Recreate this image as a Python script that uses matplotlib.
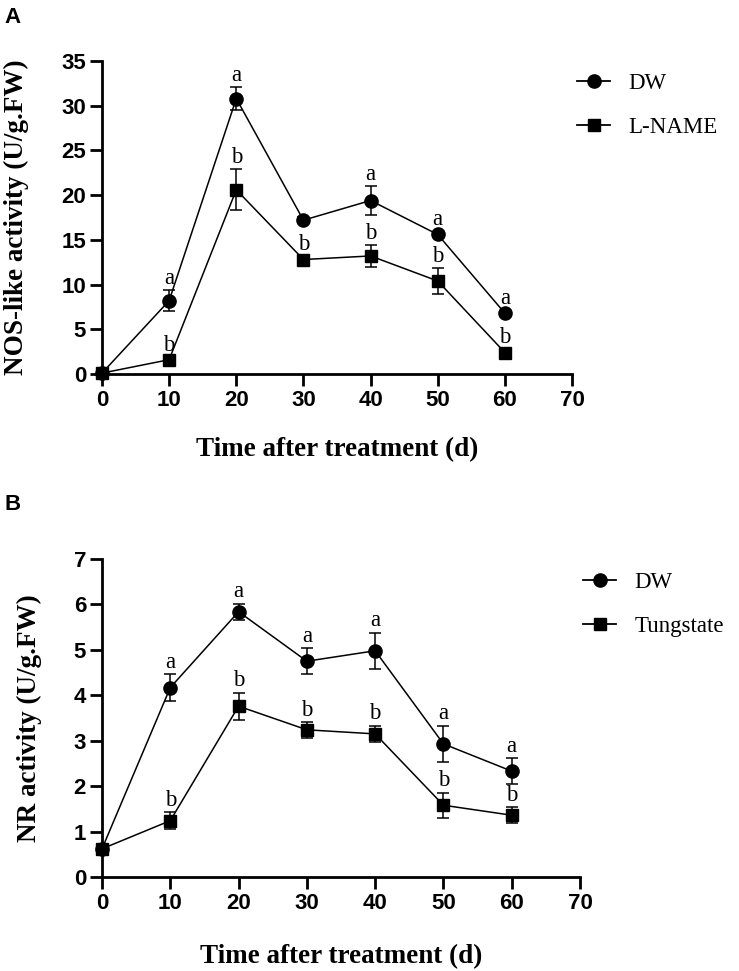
import matplotlib.pyplot as plt
from matplotlib.lines import Line2D

days = [0, 10, 20, 30, 40, 50, 60]

# panel A: NOS-like activity
nos_dw = [0.1, 8.2, 30.8, 17.2, 19.4, 15.6, 6.8]
nos_dw_err = [0.2, 1.2, 1.3, 0.3, 1.6, 0.3, 0.3]
nos_dw_lab = ["", "a", "a", "", "a", "a", "a"]
nos_ln = [0.1, 1.6, 20.6, 12.8, 13.2, 10.4, 2.4]
nos_ln_err = [0.2, 0.3, 2.3, 0.3, 1.2, 1.4, 0.3]
nos_ln_lab = ["", "b", "b", "b", "b", "b", "b"]

# panel B: NR activity
nr_dw = [0.62, 4.17, 5.84, 4.75, 4.98, 2.93, 2.33]
nr_dw_err = [0.05, 0.3, 0.18, 0.28, 0.4, 0.4, 0.28]
nr_dw_lab = ["", "a", "a", "a", "a", "a", "a"]
nr_tu = [0.62, 1.24, 3.76, 3.24, 3.15, 1.58, 1.36]
nr_tu_err = [0.05, 0.18, 0.3, 0.17, 0.18, 0.28, 0.18]
nr_tu_lab = ["", "b", "b", "b", "b", "b", "b"]

serif = "Liberation Serif"
sans = "Liberation Sans"
W, H = 739, 971

fig = plt.figure(figsize=(W / 100, H / 100), dpi=100)
axA = fig.add_axes([102 / W, 1 - 374 / H, 470 / W, 313 / H])
axB = fig.add_axes([102 / W, 1 - 877 / H, 478 / W, 318 / H])

MS = {"o": 9.5, "s": 9}


def draw_series(ax, y, err, labs, marker):
    ax.errorbar(days, y, yerr=err, color="black", marker=marker, markersize=MS[marker],
                linewidth=1.1, elinewidth=1.1, capsize=4.5, capthick=1.1,
                clip_on=False, zorder=3)
    for xi, yi, ei, lb in zip(days, y, err, labs):
        if lb:
            ax.annotate(lb, (xi, yi + ei), xytext=(0, 1), textcoords="offset points",
                        ha="center", va="bottom", fontsize=16.5, family=serif)


def style_axes(ax, ymax, ystep, ylabel, names, leg_xy, xpad):
    ax.set_xlim(0, 70)
    ax.set_ylim(0, ymax)
    ax.set_xticks(range(0, 71, 10))
    ax.set_yticks([i * ystep for i in range(int(round(ymax / ystep)) + 1)])
    for s in ["top", "right"]:
        ax.spines[s].set_visible(False)
    for s in ["left", "bottom"]:
        ax.spines[s].set_linewidth(2)
    ax.tick_params(width=2, length=8.5, labelsize=16, pad=3)
    for t in ax.get_xticklabels() + ax.get_yticklabels():
        t.set_family(sans)
        t.set_fontweight("bold")
    ax.set_xlabel("Time after treatment (d)", family=serif, fontweight="bold",
                  fontsize=19.5, labelpad=xpad)
    ax.set_ylabel(ylabel, family=serif, fontweight="bold", fontsize=19.5, labelpad=23)
    handles = [Line2D([], [], color="black", marker=m, markersize=MS[m], linewidth=1.3)
               for m in ["o", "s"]]
    fig.legend(handles, names, loc="upper left",
               bbox_to_anchor=(leg_xy[0] / W, 1 - leg_xy[1] / H), frameon=False,
               prop={"family": serif, "size": 16.5}, handlelength=1.45,
               labelspacing=1.0, handletextpad=0.8, borderaxespad=0, borderpad=0)


draw_series(axA, nos_dw, nos_dw_err, nos_dw_lab, "o")
draw_series(axA, nos_ln, nos_ln_err, nos_ln_lab, "s")
style_axes(axA, 35, 5, "NOS-like activity (U/g.FW)", ["DW", "L-NAME"], (577, 73), 19)

draw_series(axB, nr_dw, nr_dw_err, nr_dw_lab, "o")
draw_series(axB, nr_tu, nr_tu_err, nr_tu_lab, "s")
style_axes(axB, 7, 1, "NR activity (U/g.FW)", ["DW", "Tungstate"], (583, 572), 22)

fig.text(4 / W, 1 - 7 / H, "A", family=sans, fontweight="bold", fontsize=16, va="top")
fig.text(4 / W, 1 - 494 / H, "B", family=sans, fontweight="bold", fontsize=16, va="top")

fig.savefig("out.png", dpi=100)
